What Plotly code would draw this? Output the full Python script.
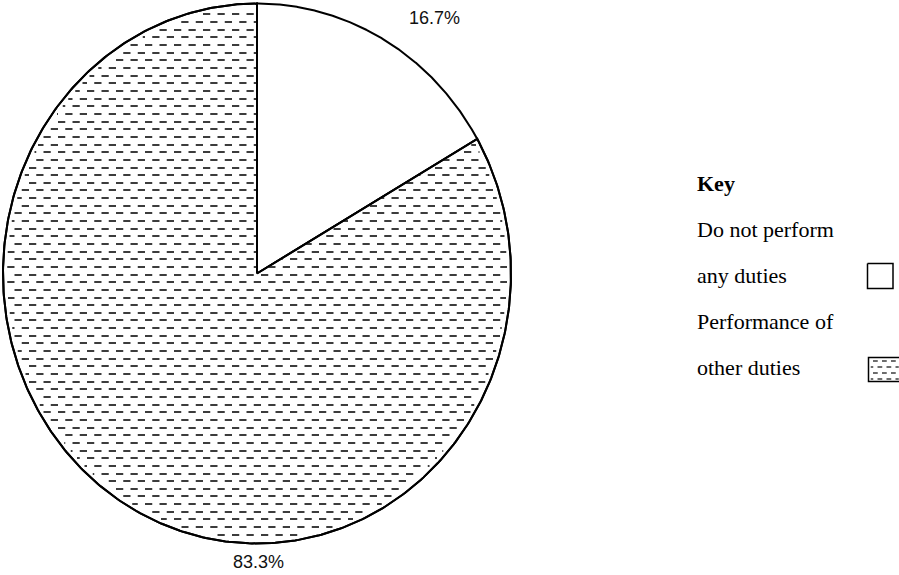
import numpy as np
import plotly.graph_objects as go

# Share of respondents by duty status
categories = ["Do not perform any duties", "Performance of other duties"]
shares = [16.7, 83.3]
label_text = [f"{v:.1f}%" for v in shares]
key_lines = ["Do not perform", "any duties", "Performance of", "other duties"]

W, H = 899, 575
CX, CY = 257.0, 273.5     # pie centre (pixel space)
RX, RY = 254.0, 270.0     # horizontal / vertical radius
INK = "#000000"
DASH_INK = "#3c3c3c"

# slice angular extents, clockwise from 12 o'clock
fractions = np.array(shares) / sum(shares)
ends = np.cumsum(fractions) * 360.0
starts = np.concatenate([[0.0], ends[:-1]])


def ellipse_pt(theta_deg):
    t = np.radians(theta_deg)
    return CX + RX * np.sin(t), CY - RY * np.cos(t)


def slice_path(a0, a1):
    th = np.linspace(a0, a1, 400)
    xs, ys = ellipse_pt(th)
    return [CX, *xs, CX], [CY, *ys, CY]


def in_slice(x, y, a0, a1):
    u = (x - CX) / RX
    v = (CY - y) / RY
    r = np.hypot(u, v)
    ang = np.degrees(np.arctan2(u, v)) % 360.0
    return (r <= 0.985) & (ang >= a0) & (ang < a1)


def hatch_segments(mask_fn, y0, y1, x0, x1, row_gap=7.65, period=14.5, dash=7.3, row_origin=244.0):
    """Horizontal dash texture: rows of short dashes, alternate rows shifted half a period."""
    segx, segy = [], []
    k0 = int(np.floor((y0 - row_origin) / row_gap))
    k1 = int(np.ceil((y1 - row_origin) / row_gap))
    xs = np.arange(x0, x1, 0.25)
    for k in range(k0, k1 + 1):
        y = float(round(row_origin + k * row_gap))
        if y < y0 or y > y1:
            continue
        phase = (xs + (period / 2.0 if k % 2 else 0.0)) % period
        on = (phase < dash) & mask_fn(xs, np.full_like(xs, y))
        if not on.any():
            continue
        d = np.diff(np.concatenate([[0], on.astype(int), [0]]))
        st = np.where(d == 1)[0]
        en = np.where(d == -1)[0] - 1
        for a, b in zip(st, en):
            if xs[b] - xs[a] < 1.0:
                continue
            segx += [xs[a], xs[b], None]
            segy += [y, y, None]
    return segx, segy


fig = go.Figure()

# white slice
px, py = slice_path(starts[0], ends[0])
fig.add_trace(go.Scatter(x=px, y=py, mode="lines", fill="toself", fillcolor="white",
                         line=dict(color=INK, width=2), hoverinfo="skip", showlegend=False))

# hatched slice: outline + dash texture
px, py = slice_path(starts[1], ends[1])
fig.add_trace(go.Scatter(x=px, y=py, mode="lines", fill="toself", fillcolor="white",
                         line=dict(color=INK, width=2), hoverinfo="skip", showlegend=False))
hx, hy = hatch_segments(lambda x, y: in_slice(x, y, starts[1], ends[1]),
                        CY - RY, CY + RY, CX - RX, CX + RX)
fig.add_trace(go.Scatter(x=hx, y=hy, mode="lines", line=dict(color=DASH_INK, width=2),
                         hoverinfo="skip", showlegend=False))
# redraw outline on top of the texture
fig.add_trace(go.Scatter(x=px, y=py, mode="lines", line=dict(color=INK, width=2),
                         hoverinfo="skip", showlegend=False))

# percentage labels
sans = dict(family="Liberation Sans, Arial", size=18, color="#111")
fig.add_annotation(x=434, y=18, text=label_text[0], showarrow=False, font=sans)
fig.add_annotation(x=258, y=562, text=label_text[1], showarrow=False, font=sans)

# key
serif = dict(family="Liberation Serif, Times New Roman", size=22, color="black")
fig.add_annotation(x=695, y=183, text="<b>Key</b>", showarrow=False, xanchor="left", font=serif)
for i, line in enumerate(key_lines):
    fig.add_annotation(x=695, y=229 + 46 * i, text=line, showarrow=False, xanchor="left", font=serif)

# key swatches
bx0, bx1, by0, by1 = 867.5, 893, 263.5, 288.5
fig.add_trace(go.Scatter(x=[bx0, bx1, bx1, bx0, bx0], y=[by0, by0, by1, by1, by0], mode="lines",
                         line=dict(color=INK, width=1.5), fill="toself", fillcolor="white",
                         hoverinfo="skip", showlegend=False))
sx0, sx1, sy0, sy1 = 868.5, 905, 357.5, 381.5
sx, sy = hatch_segments(lambda x, y: (x > sx0 + 2) & (x < sx1) & (y > sy0 + 1) & (y < sy1 - 1),
                        sy0, sy1, sx0, W, row_gap=6.0, period=9.0, dash=5.0, row_origin=sy0 + 3.5)
fig.add_trace(go.Scatter(x=sx, y=sy, mode="lines", line=dict(color=DASH_INK, width=1.5),
                         hoverinfo="skip", showlegend=False))
fig.add_trace(go.Scatter(x=[sx1, sx0, sx0, sx1], y=[sy0, sy0, sy1, sy1], mode="lines",
                         line=dict(color=INK, width=1.5), hoverinfo="skip", showlegend=False))

fig.update_xaxes(range=[0, W], visible=False, fixedrange=True)
fig.update_yaxes(range=[H, 0], visible=False, fixedrange=True)
fig.update_layout(width=W, height=H, margin=dict(l=0, r=0, t=0, b=0),
                  plot_bgcolor="white", paper_bgcolor="white", showlegend=False)

fig.write_html("out.html")
